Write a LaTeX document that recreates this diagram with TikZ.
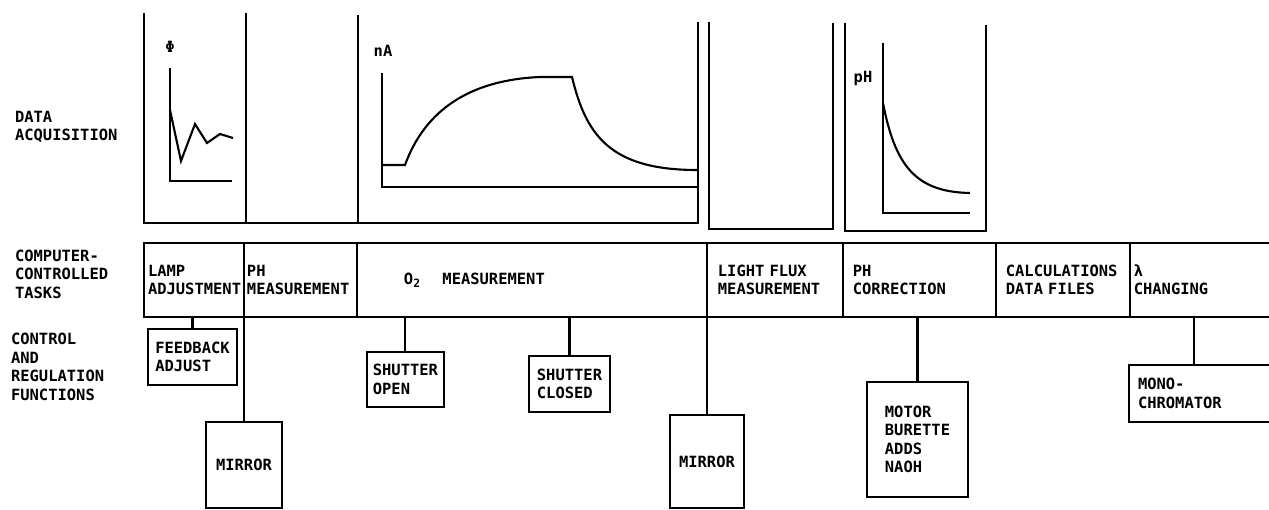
\documentclass[tikz,border=0pt]{standalone}
\usepackage{fontspec}
\usetikzlibrary{positioning}
\newfontfamily\plotterfamily{DejaVu Sans Mono}[HyphenChar=None]
\newcommand{\plotterfont}{\plotterfamily\bfseries\fontsize{8.8}{10.5}\selectfont}
\newcommand{\subtwo}{\raisebox{-0.4ex}{\fontsize{6.5}{7}\selectfont 2}}

\begin{document}
\begin{tikzpicture}[
    x=0.02cm, y=-0.02cm, line width=1.2pt,
    rowlabel/.style={anchor=west, align=left, inner sep=0pt, font=\plotterfont},
    cell/.style 2 args={draw, outer sep=0pt, anchor=north west, minimum height=1.48cm, text width=#1, inner xsep=#2, align=left, font=\plotterfont},
    fnbox/.style 2 args={draw, outer sep=0pt, anchor=north west, minimum width=#1, minimum height=#2, align=left, font=\plotterfont},
    axislabel/.style={inner sep=0pt, font=\plotterfont}
  ]
  \useasboundingbox (0,0) rectangle (1269,510);
  \clip (0,0) rectangle (1269,510);

  % row labels
  \node[rowlabel] (acq) at (14,127) {DATA\\ACQUISITION};
  \node[rowlabel] (tasks) at (14,274) {COMPUTER-\\CONTROLLED\\TASKS};
  \node[rowlabel] (ctrl) at (10,367) {CONTROL\\AND\\REGULATION\\FUNCTIONS};

  % data acquisition panels
  \draw (144,13) -- (144,223) -- (698,223) -- (698,22);
  \draw (246,13) -- (246,223);
  \draw (358,15) -- (358,223);
  \draw (709,22) -- (709,229) -- (833,229) -- (833,23);
  \draw (845,23) -- (845,231) -- (986,231) -- (986,25);

  % lamp signal
  \node[axislabel] (phi) at (170,47) {Φ};
  \draw (170,68) -- (170,181) -- (232,181);
  \draw (170,110) -- (181,161) -- (195,124) -- (207,143) -- (220,134) -- (233,138);

  % oxygen electrode current
  \node[axislabel] (na) at (383,51) {nA};
  \draw (382,73) -- (382,187) -- (697,187);
  \draw (382,165) -- (405,165) .. controls (425,110) and (470,80) .. (540,77) -- (572,77)
        .. controls (586,135) and (610,170) .. (697,170);

  % pH trace
  \node[axislabel] (ph) at (863,78) {pH};
  \draw (883,43) -- (883,213) -- (970,213);
  \draw (883,103) .. controls (895,165) and (915,192) .. (970,193);

  % computer-controlled tasks
  \node[cell={1.84cm}{0.08cm}] (lamp) at (144,243) {LAMP\\ADJUSTMENT};
  \node[cell={2.14cm}{0.06cm}, right=0pt of lamp] (phmeas) {PH\\MEASUREMENT};
  \node[cell={5.12cm}{0.94cm}, right=0pt of phmeas] (otwo) {O\subtwo\hspace{12.7pt}MEASUREMENT};
  \node[cell={2.28cm}{0.22cm}, right=0pt of otwo] (flux) {LIGHT FLUX\\MEASUREMENT};
  \node[cell={2.66cm}{0.20cm}, right=0pt of flux] (phcorr) {PH\\CORRECTION};
  \node[cell={2.28cm}{0.20cm}, right=0pt of phcorr] (calc) {CALCULATIONS\\DATA FILES};
  \node[cell={2.84cm}{0.08cm}, right=0pt of calc] (lam) {λ\\CHANGING};

  % control and regulation functions
  \node[fnbox={1.78cm}{1.12cm}] (feedback) at (148,329) {FEEDBACK\\ADJUST};
  \node[fnbox={1.52cm}{1.72cm}] (mirrorA) at (206,422) {MIRROR};
  \node[fnbox={1.50cm}{1.10cm}] (shopen) at (367,352) {SHUTTER\\OPEN};
  \node[fnbox={1.62cm}{1.12cm}] (shclosed) at (529,356) {SHUTTER\\CLOSED};
  \node[fnbox={1.48cm}{1.86cm}] (mirrorB) at (670,415) {MIRROR};
  \node[fnbox={2.02cm}{2.30cm}] (motor) at (867,382) {MOTOR\\BURETTE\\ADDS\\NAOH};
  \node[fnbox={2.84cm}{1.14cm}, text width=2.48cm, inner xsep=0.18cm] (mono) at (1129,365) {MONO-\\CHROMATOR};
  \coordinate (monotap) at ([xshift=1.3cm]mono.north west);

  \draw (lamp.south -| feedback.north) -- (feedback.north);
  \draw (lamp.south -| mirrorA.north) -- (mirrorA.north);
  \draw (otwo.south -| shopen.north) -- (shopen.north);
  \draw (otwo.south -| shclosed.north) -- (shclosed.north);
  \draw (flux.south -| mirrorB.north) -- (mirrorB.north);
  \draw (phcorr.south -| motor.north) -- (motor.north);
  \draw (lam.south -| monotap) -- (monotap);
\end{tikzpicture}
\end{document}
